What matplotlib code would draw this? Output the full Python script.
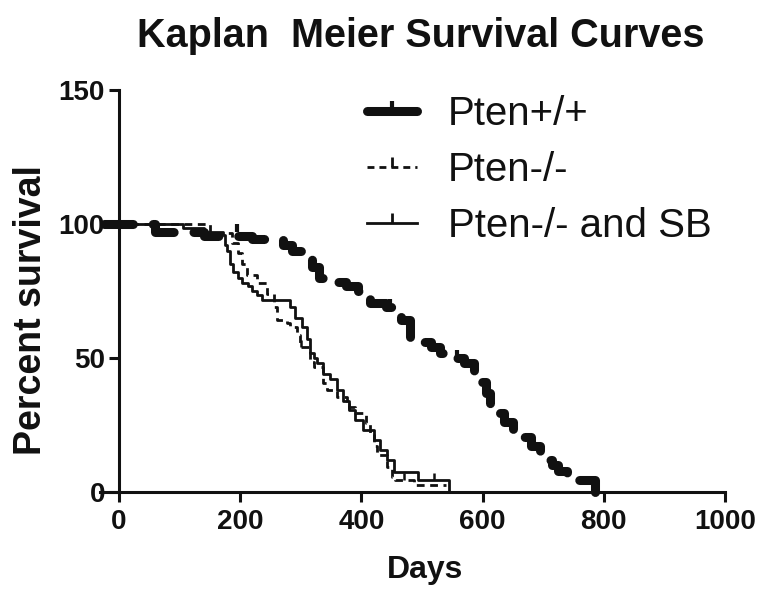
import matplotlib
matplotlib.use("Agg")
import matplotlib.pyplot as plt
from matplotlib.lines import Line2D

plt.rcParams['font.family'] = ['Liberation Sans', 'DejaVu Sans']

# Pten+/+  (thick dashed)
wt_days = [-25, 60, 140, 220, 270, 285, 305, 318, 330, 345, 375, 395, 405, 415, 440, 455,
           465, 480, 500, 515, 530, 555, 570, 585, 595, 605, 612, 620, 635, 650, 660, 680,
           695, 705, 715, 725, 740, 785]
wt_surv = [100, 97, 95.6, 94.3, 92, 90, 87, 84, 80, 78.5, 77, 75, 73, 70.5, 69, 67,
           64, 58, 56, 54, 52, 50, 48, 44, 41, 37, 33, 29.5, 26, 23, 20.5, 17,
           14, 12, 10, 8, 4.5, 0]

# Pten-/-  (thin dashed)
ko_days = [-25, 150, 187, 197, 203, 212, 228, 245, 255, 261, 278, 283, 294, 299, 316, 321,
           336, 344, 360, 377, 390, 407, 415, 420, 425, 443, 450, 455, 486, 540]
ko_surv = [100, 96.6, 93, 89, 85, 81, 78, 74, 69, 64, 63, 61.5, 58.6, 54, 48.5, 46.6,
           40.6, 38, 35.4, 31.7, 29.5, 25.7, 22, 17, 13.8, 9.3, 5.6, 4.5, 2.5, 2.5]

# Pten-/- and SB  (solid)
sb_days = [-25, 105, 140, 172, 175, 178, 183, 188, 197, 203, 213, 220, 228, 236, 283, 291,
           302, 311, 316, 321, 327, 337, 349, 360, 369, 379, 390, 403, 420, 431, 443, 453,
           494, 544]
sb_surv = [100, 98.5, 97, 96, 92, 90, 85, 82, 80, 78, 77, 75, 73.5, 71.6, 69, 65,
           61.5, 57, 52, 50, 48, 44, 42, 38, 34, 30.6, 27, 23, 19.4, 15.7, 12, 7.5,
           4.5, 0]

# censored points
wt_cens_d = [195, 448, 558]
wt_cens_s = [97, 69, 50]
ko_cens_d = [300, 470]
ko_cens_s = [54, 4.5]
sb_cens_d = [380, 520]
sb_cens_s = [30.6, 4.5]

labels = ["Pten+/+", "Pten-/-", "Pten-/- and SB"]

fig = plt.figure(figsize=(7.62, 5.93), dpi=100)
ax = fig.add_axes([99.6 / 762, 101 / 593, (725 - 99.6) / 762, 402 / 593])

ax.plot(wt_days, wt_surv, drawstyle='steps-post', color='#111111', lw=6.5,
        dashes=(3.2, 2.2), dash_capstyle='round', solid_capstyle='round', clip_on=False)
ax.plot(ko_days, ko_surv, drawstyle='steps-post', color='#111111', lw=2.0,
        dashes=(2.8, 2.0), clip_on=False)
ax.plot(sb_days, sb_surv, drawstyle='steps-post', color='#111111', lw=2.0, clip_on=False)

ax.plot(wt_cens_d, wt_cens_s, ls='none', marker=2, ms=6, mew=3, color='#111111')
ax.plot(ko_cens_d, ko_cens_s, ls='none', marker=2, ms=5, mew=1.8, color='#111111')
ax.plot(sb_cens_d, sb_cens_s, ls='none', marker=2, ms=5, mew=1.8, color='#111111')

ax.set_xlim(-32, 1000)
ax.set_ylim(0, 150)
ax.spines['left'].set_position(('data', 0))
ax.spines['top'].set_visible(False)
ax.spines['right'].set_visible(False)
for s in ['left', 'bottom']:
    ax.spines[s].set_linewidth(2.2)
    ax.spines[s].set_color('#111111')
ax.set_xticks([0, 200, 400, 600, 800, 1000])
ax.set_yticks([0, 50, 100, 150])
ax.tick_params(direction='out', length=7, width=2.2, colors='#111111', labelsize=20)
ax.tick_params(axis='y', pad=3)
ax.tick_params(axis='x', pad=5)
for t in ax.get_xticklabels() + ax.get_yticklabels():
    t.set_fontweight('bold')

handles = [
    Line2D([], [], color='#111111', lw=6.5, solid_capstyle='round', marker=2, ms=7, mew=3),
    Line2D([], [], color='#111111', lw=2.0, dashes=(2.5, 1.8), marker=2, ms=7, mew=2),
    Line2D([], [], color='#111111', lw=2.0, marker=2, ms=7, mew=2),
]
leg = fig.legend(handles, labels, loc='upper left', bbox_to_anchor=(367 / 762, 1 - 95 / 593),
                 frameon=False, fontsize=29, handlelength=1.25, handletextpad=0.75,
                 labelspacing=0.45, borderpad=0, borderaxespad=0, numpoints=1)
for t in leg.get_texts():
    t.set_color('#111111')

fig.text(421 / 762, 1 - 36 / 593, "Kaplan  Meier Survival Curves", ha='center', va='center',
         fontsize=28.5, fontweight='bold', color='#111111')
fig.text(425 / 762, 1 - 570 / 593, "Days", ha='center', va='center',
         fontsize=23, fontweight='bold', color='#111111')
fig.text(31 / 762, 1 - 310 / 593, "Percent survival", ha='center', va='center', rotation=90,
         fontsize=27, fontweight='bold', color='#111111')

fig.savefig("out.png", dpi=100)
